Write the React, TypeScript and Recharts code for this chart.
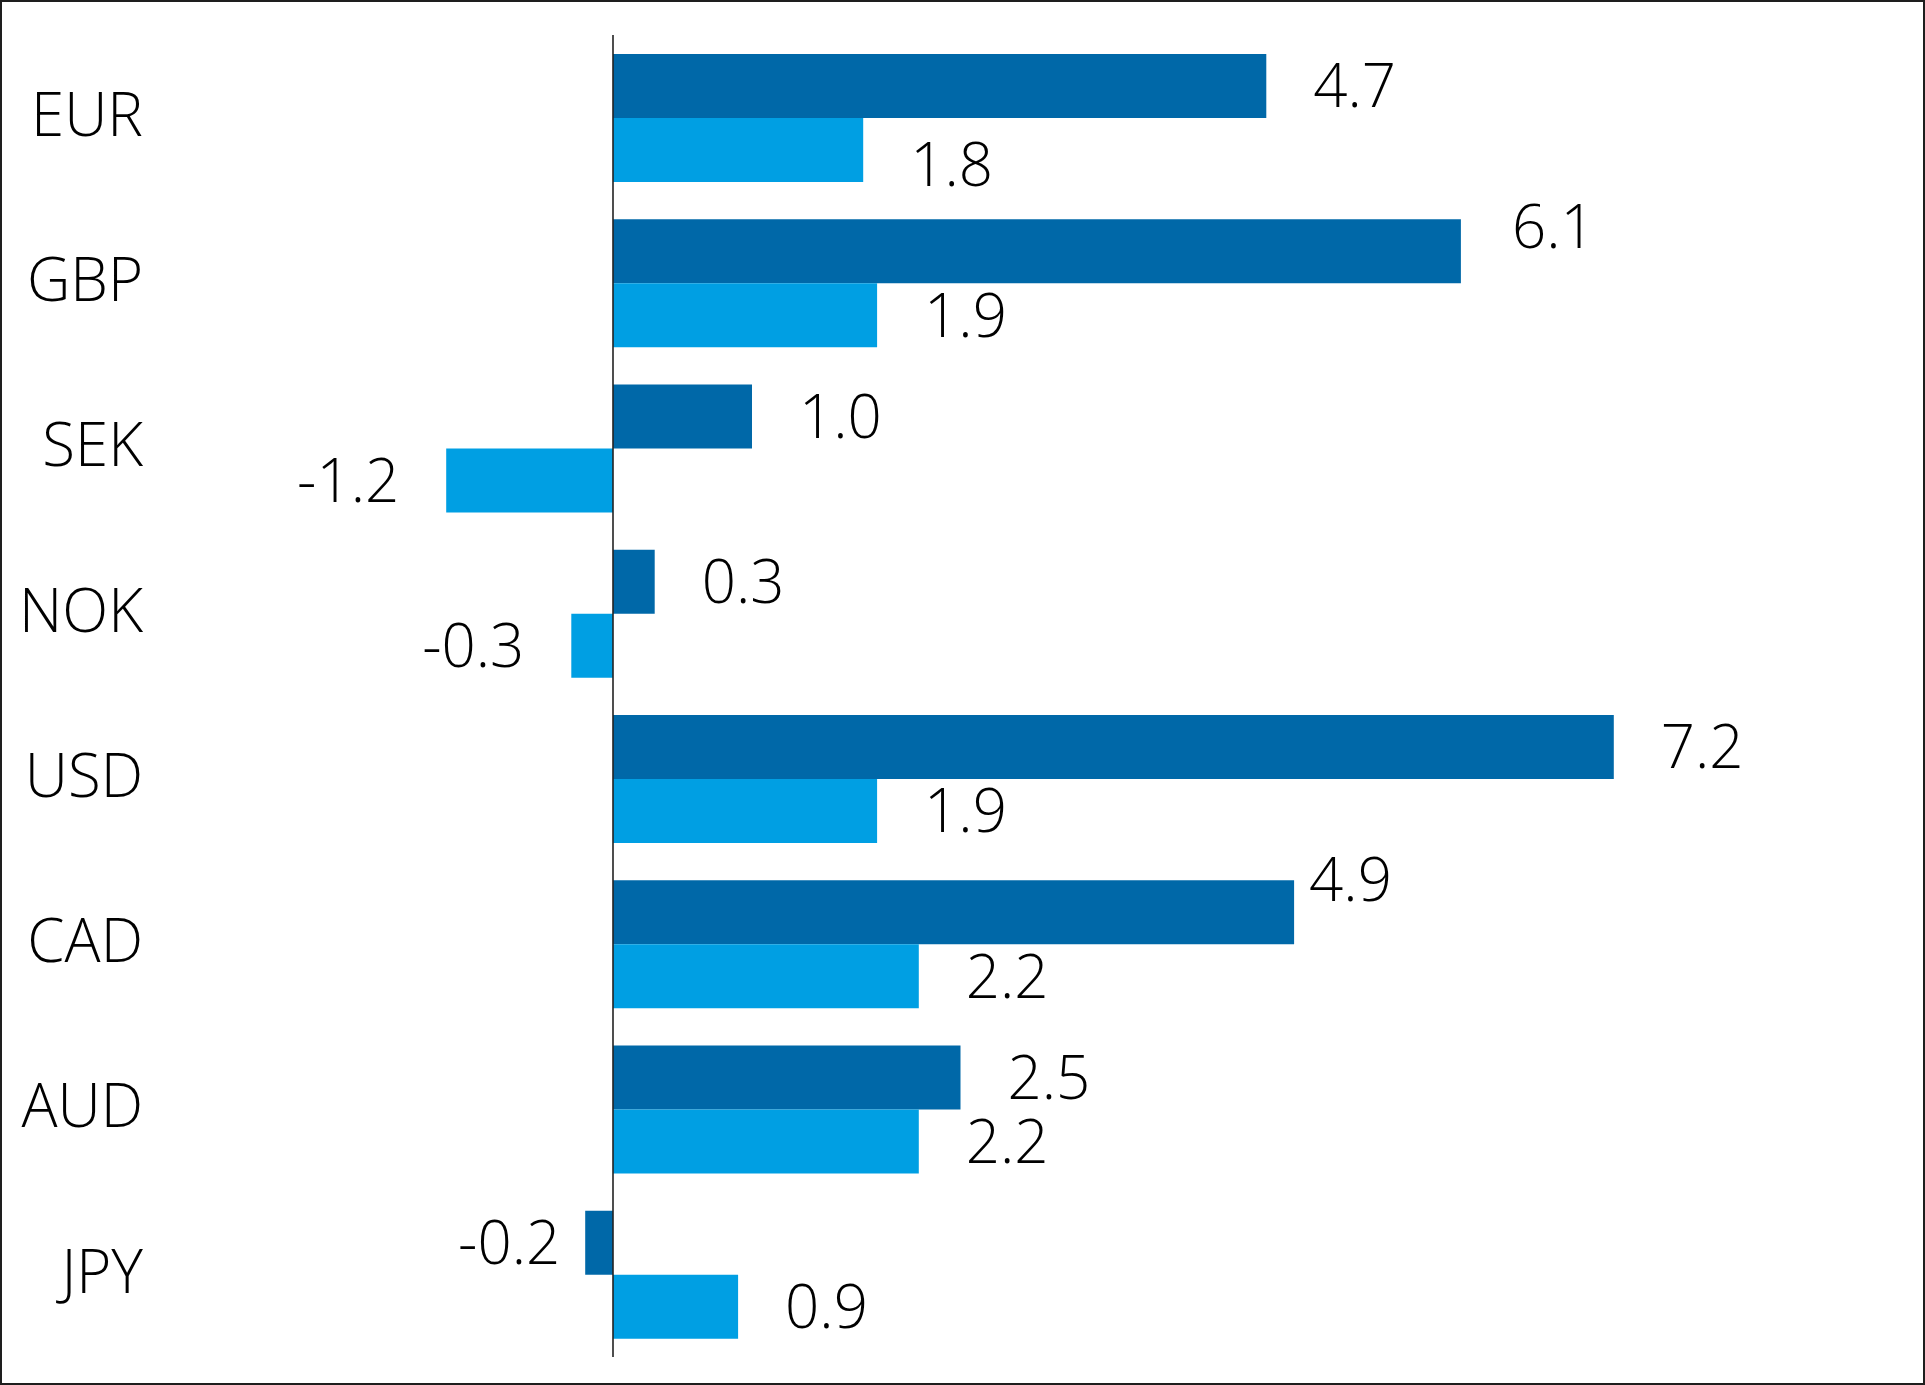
import React from 'react';
import { BarChart, Bar, XAxis, YAxis, ReferenceLine, LabelList } from 'recharts';

const categories = ['EUR', 'GBP', 'SEK', 'NOK', 'USD', 'CAD', 'AUD', 'JPY'];
const darkValues = [4.7, 6.1, 1.0, 0.3, 7.2, 4.9, 2.5, -0.2];
const lightValues = [1.8, 1.9, -1.2, -0.3, 1.9, 2.2, 2.2, 0.9];

const data = categories.map((name, i) => ({ name, dark: darkValues[i], light: lightValues[i] }));

const W = 1925;
const H = 1385;
const FONT = "'Open Sans', 'Noto Sans', sans-serif";
const FONT_SIZE = 60;
const LABEL_GAP = 47;
const DARK = '#0068a8';
const LIGHT = '#009fe3';

// small hand nudges of individual value labels (as in the original)
const darkNudge: Record<string, { dx: number; dy: number }> = {
  GBP: { dx: 4, dy: -25 },
  CAD: { dx: -32, dy: -33 },
  JPY: { dx: 22, dy: 0 },
};
const lightNudge: Record<string, { dx: number; dy: number }> = {
  EUR: { dx: 0, dy: 15 },
};

function makeLabel(nudge: Record<string, { dx: number; dy: number }>) {
  return (props: any) => {
    const vb = props.viewBox ?? props;
    const x = Number(vb.x);
    const y = Number(vb.y);
    const w = Number(vb.width);
    const h = Number(vb.height);
    const v = Number(props.value);
    const name = categories[props.index];
    const n = nudge[name] || { dx: 0, dy: 0 };
    const left = Math.min(x, x + w);
    const right = Math.max(x, x + w);
    const pos = v >= 0;
    const tx = (pos ? right + LABEL_GAP : left - LABEL_GAP) + n.dx;
    const ty = y + h / 2 + n.dy;
    return (
      <text
        x={tx}
        y={ty}
        dy="0.355em"
        textAnchor={pos ? 'start' : 'end'}
        fill="#000"
        fontSize={FONT_SIZE}
        fontFamily={FONT}
        fontWeight={300}
      >
        {v.toFixed(1)}
      </text>
    );
  };
}

const CatTick = (props: any) => {
  const { x, y, payload } = props;
  return (
    <text
      x={x}
      y={y - 3}
      dy="0.355em"
      textAnchor="end"
      fill="#000"
      fontSize={FONT_SIZE}
      fontFamily={FONT}
      fontWeight={300}
    >
      {payload.value}
    </text>
  );
};

export default function App() {
  return (
    <div style={{ position: 'absolute', left: 0, top: 0, width: W, height: H, background: '#fff' }}>
      <BarChart
        width={W}
        height={H}
        data={data}
        layout="vertical"
        margin={{ top: 35, right: 61, bottom: 28, left: 0 }}
        barCategoryGap={19}
        barGap={0}
      >
        <XAxis type="number" hide domain={[-3, 9]} allowDataOverflow />
        <YAxis
          type="category"
          dataKey="name"
          width={196}
          axisLine={false}
          tickLine={false}
          tickSize={6}
          tickMargin={47}
          tick={<CatTick />}
          interval={0}
        />
        <Bar dataKey="dark" fill={DARK} isAnimationActive={false}>
          <LabelList dataKey="dark" content={makeLabel(darkNudge)} />
        </Bar>
        <Bar dataKey="light" fill={LIGHT} isAnimationActive={false}>
          <LabelList dataKey="light" content={makeLabel(lightNudge)} />
        </Bar>
        <ReferenceLine x={0} stroke="#222" strokeWidth={1.6} ifOverflow="extendDomain" />
      </BarChart>
      <div
        style={{
          position: 'absolute',
          left: 0,
          top: 0,
          width: W,
          height: H,
          boxSizing: 'border-box',
          border: '2px solid #1e1e1e',
          pointerEvents: 'none',
        }}
      />
    </div>
  );
}
